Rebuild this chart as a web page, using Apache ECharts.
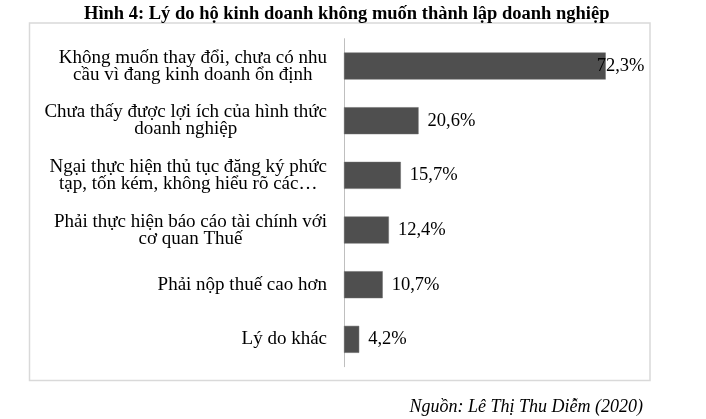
<!DOCTYPE html>
<html>
<head>
<meta charset="utf-8">
<script src="https://cdn.jsdelivr.net/npm/echarts@6/dist/echarts.min.js"></script>
<style>
html,body{margin:0;padding:0;background:#fff;}
#chart{width:706px;height:419px;}
</style>
</head>
<body>
<div id="chart"></div>
<script>
var titleText = 'Hình 4: Lý do hộ kinh doanh không muốn thành lập doanh nghiệp';
var sourceText = 'Nguồn: Lê Thị Thu Diễm (2020)';
var categories = [
  'Không muốn thay đổi, chưa có nhu\ncầu vì đang kinh doanh ổn định',
  'Chưa thấy được lợi ích của hình thức\ndoanh nghiệp',
  'Ngại thực hiện thủ tục đăng ký phức\ntạp, tốn kém, không hiểu rõ các…',
  'Phải thực hiện báo cáo tài chính với\ncơ quan Thuế',
  'Phải nộp thuế cao hơn',
  'Lý do khác'
];
var values = [72.3, 20.6, 15.7, 12.4, 10.7, 4.2];

var serif = '"Liberation Serif","Times New Roman",serif';

var chart = echarts.init(document.getElementById('chart'));
var barData = values.map(function (v, i) {
  var d = { value: v };
  if (i === 0) { d.label = { offset: [-18, 0] }; }
  return d;
});

chart.setOption({
  backgroundColor: '#ffffff',
  animation: false,
  title: [
    {
      text: titleText,
      left: 79, top: 0,
      textStyle: { fontFamily: serif, fontWeight: 'bold', fontSize: 18.5, color: '#000' }
    },
    {
      text: sourceText,
      right: 58, top: 393,
      textStyle: { fontFamily: serif, fontStyle: 'italic', fontWeight: 'normal', fontSize: 18, color: '#000' }
    }
  ],
  graphic: [
    {
      type: 'rect',
      shape: { x: 29.5, y: 23, width: 620.5, height: 357.5 },
      style: { fill: 'none', stroke: '#d9d9d9', lineWidth: 1.5 },
      silent: true
    }
  ],
  grid: { left: 344, top: 38.7, height: 328, width: 289.6 },
  xAxis: {
    type: 'value', min: 0, max: 80,
    show: false,
    splitLine: { show: false }
  },
  yAxis: {
    type: 'category',
    data: categories,
    inverse: true,
    axisLine: { show: true, lineStyle: { color: '#bfbfbf', width: 1 } },
    axisTick: { show: false },
    axisLabel: {
      margin: 17,
      formatter: function (v) {
        return v.split('\n').map(function (s) { return '{c|' + s + '}'; }).join('\n');
      },
      rich: {
        c: { align: 'center', fontFamily: serif, fontSize: 19, lineHeight: 17, color: '#000' }
      }
    }
  },
  series: [{
    type: 'bar',
    data: barData,
    barWidth: 27,
    itemStyle: { color: '#4f4f4f', borderColor: '#6a6a6a', borderWidth: 0.5 },
    label: {
      show: true,
      position: 'right',
      distance: 9,
      fontFamily: serif,
      fontSize: 18.5,
      color: '#000',
      formatter: function (p) { return p.value.toFixed(1).replace('.', ',') + '%'; }
    }
  }]
});
</script>
</body>
</html>
